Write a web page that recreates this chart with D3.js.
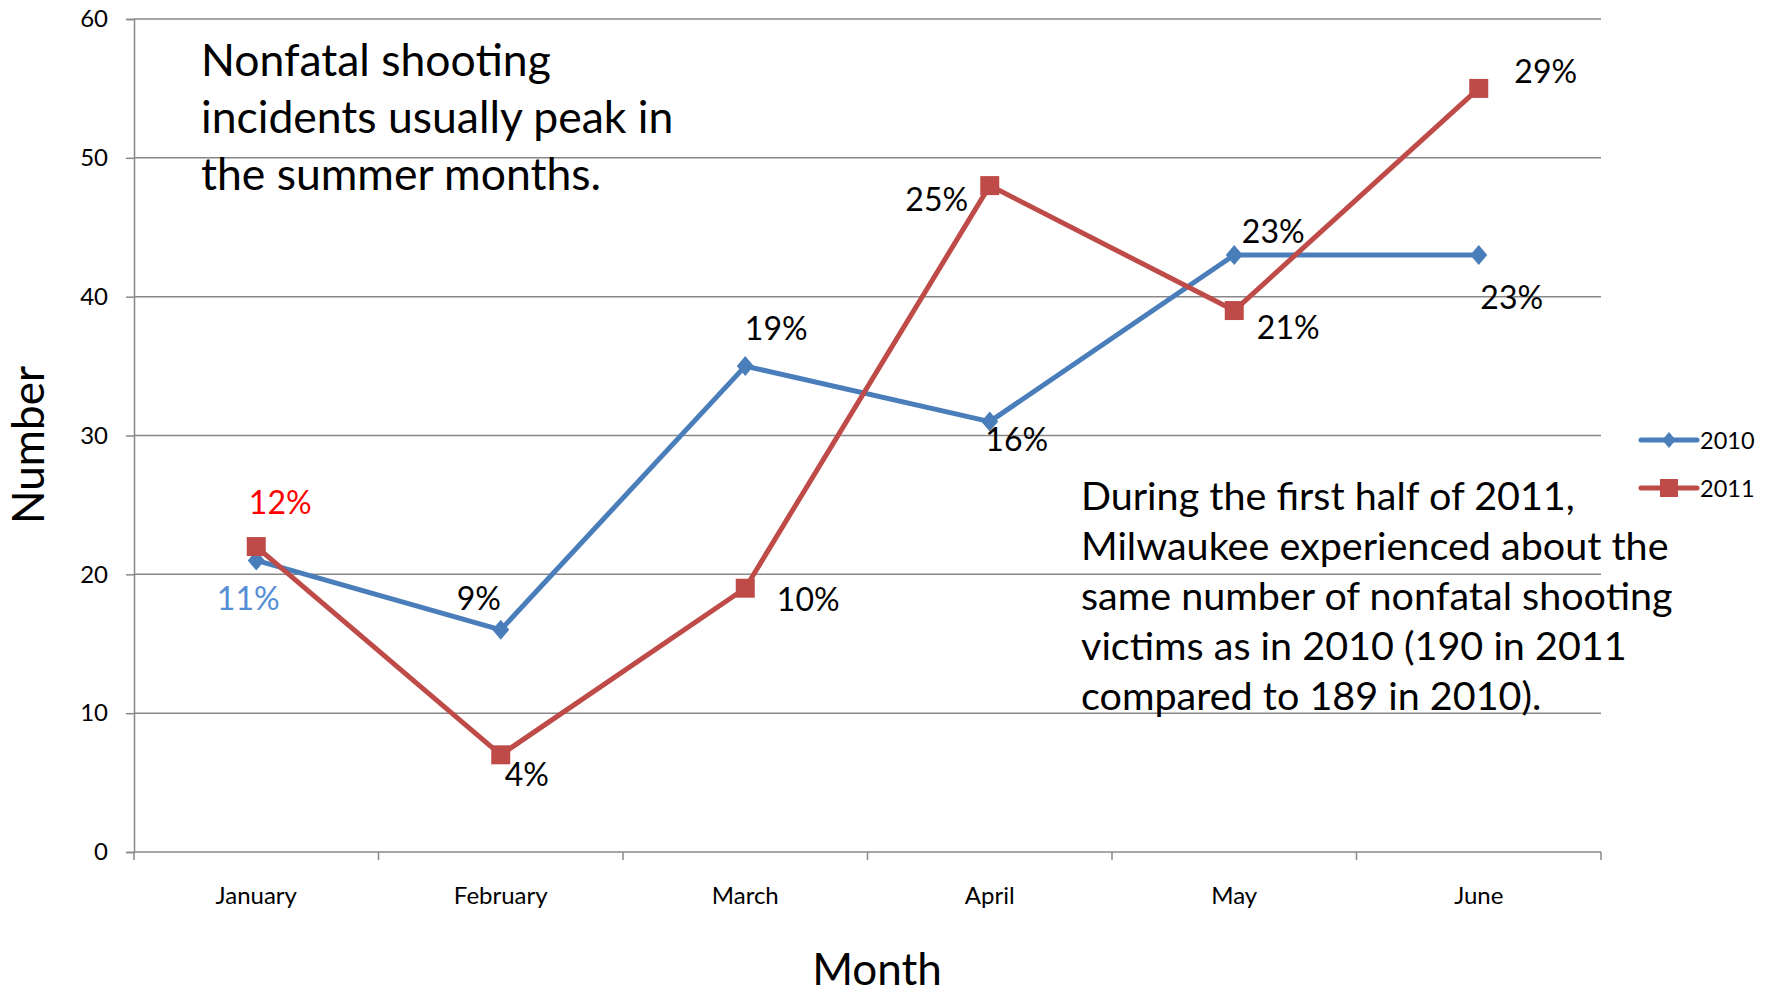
<!DOCTYPE html>
<html><head><meta charset="utf-8">
<script src="https://cdn.jsdelivr.net/npm/d3@7"></script>
<style>
html,body{margin:0;padding:0;background:#fff;}
svg{display:block;font-family:Lato,"Noto Sans",sans-serif;}
</style></head>
<body>
<svg id="chart" width="1769" height="993"></svg>
<script>
const months = ["January","February","March","April","May","June"];
const values2010 = [21,16,35,31,43,43];
const values2011 = [22,7,19,48,39,55];
const pct2010 = ["11%","9%","19%","16%","23%","23%"];
const pct2011 = ["12%","4%","10%","25%","21%","29%"];
const yTicks = [0,10,20,30,40,50,60];
const seriesNames = ["2010","2011"];

// label placement offsets (px) relative to each point
const off2010 = [[-8,37],[-22,-32],[31,-39],[27,17],[39,-25],[33,41]];
const off2011 = [[24,-45],[26,19],[63,10],[-53,13],[54,16],[67,-18]];
const labelColors2010 = ["#558ED5","#000","#000","#000","#000","#000"];
const labelColors2011 = ["#FF0000","#000","#000","#000","#000","#000"];

const svg = d3.select("#chart");
const m = {left:134, right:1601, top:19, bottom:852};
const x = d3.scaleBand().domain(months).range([m.left,m.right]).padding(0);
const y = d3.scaleLinear().domain([0,60]).range([m.bottom,m.top]);
const grid = "#888";

// gridlines
svg.append("g").selectAll("line").data(yTicks.filter(d=>d>0)).join("line")
  .attr("x1",m.left).attr("x2",m.right)
  .attr("y1",d=>y(d)).attr("y2",d=>y(d))
  .attr("stroke",grid).attr("stroke-width",1.5);

// y axis
const yAxis = svg.append("g").attr("transform",`translate(${m.left},0)`)
  .call(d3.axisLeft(y).tickValues(yTicks).tickSize(8).tickPadding(18));
yAxis.select(".domain").attr("stroke",grid).attr("stroke-width",1.5);
yAxis.selectAll(".tick line").attr("stroke",grid).attr("stroke-width",1.5);
yAxis.selectAll("text").attr("font-size",24).attr("fill","#000").attr("font-family","Lato");

// x axis
const xAxis = svg.append("g").attr("transform",`translate(0,${m.bottom})`)
  .call(d3.axisBottom(x).tickSize(0).tickPadding(35));
xAxis.select(".domain").attr("stroke",grid).attr("stroke-width",1.5).attr("d",`M${m.left},0H${m.right}`);
xAxis.selectAll("text").attr("font-size",24).attr("fill","#000").attr("font-family","Lato");
// x tick marks at band boundaries
svg.append("g").selectAll("line").data(months.concat(["end"])).join("line")
  .attr("x1",(d,i)=>m.left + i*x.bandwidth()).attr("x2",(d,i)=>m.left + i*x.bandwidth())
  .attr("y1",m.bottom).attr("y2",m.bottom+8)
  .attr("stroke",grid).attr("stroke-width",1.5);

const cx = d => x(d) + x.bandwidth()/2;
const line = d3.line().x(d=>cx(d.m)).y(d=>y(d.v));
const d10 = months.map((mo,i)=>({m:mo,v:values2010[i]}));
const d11 = months.map((mo,i)=>({m:mo,v:values2011[i]}));
const blue = "#4A7EBB", red = "#BE4B48";

svg.append("path").datum(d10).attr("d",line).attr("fill","none").attr("stroke",blue).attr("stroke-width",5).attr("stroke-linejoin","round");
svg.append("path").datum(d11).attr("d",line).attr("fill","none").attr("stroke",red).attr("stroke-width",5).attr("stroke-linejoin","round");

const diamond = (px,py,s)=>`M${px},${py-s}L${px+s*0.85},${py}L${px},${py+s}L${px-s*0.85},${py}Z`;
svg.append("g").selectAll("path").data(d10).join("path")
  .attr("d",d=>diamond(cx(d.m),y(d.v),10)).attr("fill",blue);
svg.append("g").selectAll("rect").data(d11).join("rect")
  .attr("x",d=>cx(d.m)-9.5).attr("y",d=>y(d.v)-9.5).attr("width",19).attr("height",19).attr("fill",red);

// data labels
function labels(data,pcts,offs,cols){
  svg.append("g").selectAll("text").data(data).join("text")
    .attr("x",(d,i)=>cx(d.m)+offs[i][0]).attr("y",(d,i)=>y(d.v)+offs[i][1])
    .attr("text-anchor","middle").attr("dominant-baseline","central")
    .attr("font-size",32).attr("fill",(d,i)=>cols[i]).text((d,i)=>pcts[i]);
}
labels(d10,pct2010,off2010,labelColors2010);
labels(d11,pct2011,off2011,labelColors2011);

// axis titles
svg.append("text").attr("x",877).attr("y",985).attr("text-anchor","middle").attr("font-size",44).text("Month");
svg.append("text").attr("transform","translate(44,445) rotate(-90)").attr("text-anchor","middle").attr("font-size",44).text("Number");

// annotations
const ann1 = ["Nonfatal shooting","incidents usually peak in","the summer months."];
svg.append("g").selectAll("text").data(ann1).join("text")
  .attr("x",201).attr("y",(d,i)=>76+i*57).attr("font-size",44.5).attr("fill","#000").text(d=>d);
const ann2 = ["During the first half of 2011,","Milwaukee experienced about the","same number of nonfatal shooting","victims as in 2010 (190 in 2011","compared to 189 in 2010)."];
svg.append("g").selectAll("text").data(ann2).join("text")
  .attr("x",1081).attr("y",(d,i)=>510+i*50).attr("font-size",39.5).attr("fill","#000").text(d=>d);

// legend
const leg = svg.append("g");
seriesNames.forEach((name,i)=>{
  const ly = 440 + i*48;
  leg.append("line").attr("x1",1641).attr("x2",1697).attr("y1",ly).attr("y2",ly)
    .attr("stroke",i?red:blue).attr("stroke-width",5).attr("stroke-linecap","round");
  if(i===0) leg.append("path").attr("d",diamond(1669,ly,8)).attr("fill",blue);
  else leg.append("rect").attr("x",1660).attr("y",ly-9).attr("width",18).attr("height",18).attr("fill",red);
  leg.append("text").attr("x",1700).attr("y",ly).attr("dominant-baseline","central").attr("font-size",23.5).text(name);
});
</script>
</body></html>
